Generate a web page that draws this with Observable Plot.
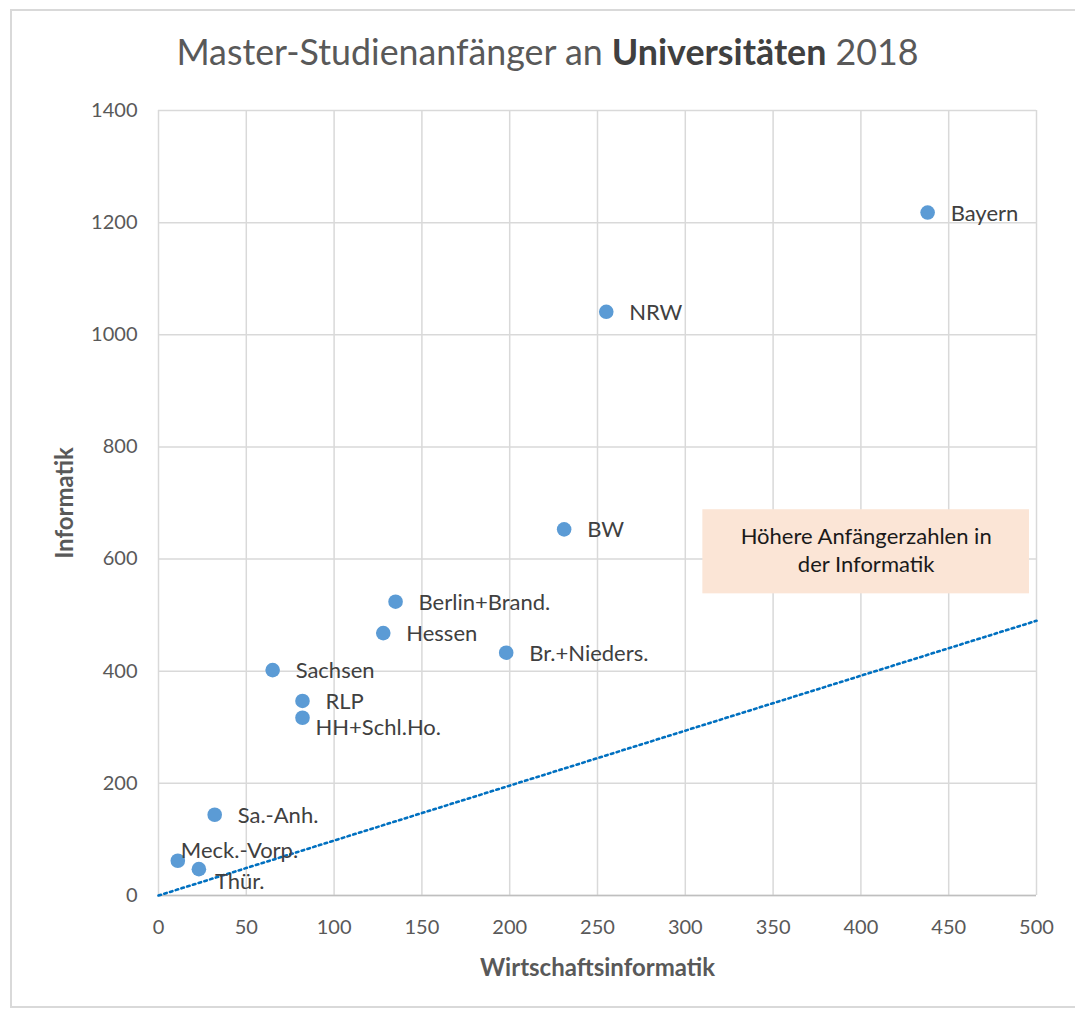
<!DOCTYPE html>
<html>
<head>
<meta charset="utf-8">
<script src="https://cdn.jsdelivr.net/npm/d3@7"></script>
<script src="https://cdn.jsdelivr.net/npm/@observablehq/plot@0.6"></script>
<style>
  html, body { margin: 0; padding: 0; background: #fff; }
  #wrap { position: relative; width: 1075px; height: 1012px; overflow: hidden; font-family: Lato, "Open Sans", sans-serif; }
  #frame { position: absolute; left: 10px; top: 9px; width: 1080px; height: 999px; border: 2px solid #d9d9d9; box-sizing: border-box; }
  #title { position: absolute; left: 20px; width: 1055px; top: 30px; text-align: center; font-size: 35.8px; color: #595959; line-height: 44px; }
  #title b { color: #404040; }
  #chart { position: absolute; left: 0; top: 90px; }
</style>
</head>
<body>
<div id="wrap">
  <div id="frame"></div>
  <div id="title">Master-Studienanfänger an <b>Universitäten</b> 2018</div>
  <div id="chart"></div>
</div>
<script>
const states = ["Bayern", "NRW", "BW", "Berlin+Brand.", "Hessen", "Br.+Nieders.", "Sachsen", "RLP", "HH+Schl.Ho.", "Sa.-Anh.", "Meck.-Vorp.", "Thür."];
const wirtschaftsinformatik = [438, 255, 231, 135, 128, 198, 65, 82, 82, 32, 11, 23];
const informatik = [1218, 1041, 653, 524, 468, 433, 402, 347, 317, 144, 62, 47];
const xTicks = [0, 50, 100, 150, 200, 250, 300, 350, 400, 450, 500];
const yTicks = [0, 200, 400, 600, 800, 1000, 1200, 1400];
const refLineX = [0, 500];
const refLineY = [0, 490];
const noteText = "Höhere Anfängerzahlen in\nder Informatik";
const noteBox = {x1: 310, x2: 496, y1: 538, y2: 688};

const data = states.map((s, i) => ({state: s, x: wirtschaftsinformatik[i], y: informatik[i]}));
const refLine = refLineX.map((x, i) => ({x, y: refLineY[i]}));

// label placement (style, not data)
const below = new Set(["Thür."]);
const belowRight = new Set(["HH+Schl.Ho."]);
const above = new Set(["Meck.-Vorp."]);
const right = data.filter(d => !below.has(d.state) && !belowRight.has(d.state) && !above.has(d.state));

const font = "Lato, 'Open Sans', sans-serif";
const labelFill = "#404040";
const labelSize = 22;

const plot = Plot.plot({
  width: 1075,
  height: 922,
  marginLeft: 158,
  marginRight: 39,
  marginTop: 20,
  marginBottom: 117,
  style: {fontFamily: font, background: "transparent"},
  x: {domain: [0, 500], ticks: xTicks},
  y: {domain: [0, 1400], ticks: yTicks},
  marks: [
    Plot.gridX(xTicks, {stroke: "#d9d9d9", strokeOpacity: 1, strokeWidth: 1.5}),
    Plot.gridY(yTicks, {stroke: "#d9d9d9", strokeOpacity: 1, strokeWidth: 1.5}),
    Plot.ruleY([0], {stroke: "#bfbfbf", strokeWidth: 1.5}),
    Plot.axisX(xTicks, {tickSize: 0, tickPadding: 24, fontSize: 20, fill: "#595959", tickFormat: d => String(d),
      label: "Wirtschaftsinformatik", labelAnchor: "center", labelArrow: "none", labelOffset: 80}),
    Plot.axisY(yTicks, {tickSize: 0, tickPadding: 21, fontSize: 20, fill: "#595959", tickFormat: d => String(d),
      label: "Informatik", labelAnchor: "center", labelArrow: "none", labelOffset: 103}),
    Plot.rect([noteBox], {x1: "x1", x2: "x2", y1: "y1", y2: "y2", fill: "#fbe5d6"}),
    Plot.text([noteText], {x: (noteBox.x1 + noteBox.x2) / 2, y: (noteBox.y1 + noteBox.y2) / 2, text: d => d,
      fontSize: 22, fill: "#1a1a1a", lineHeight: 1.3, dy: -3}),
    Plot.line(refLine, {x: "x", y: "y", stroke: "#0070c0", strokeWidth: 2.6, strokeDasharray: "2.6,3.4"}),
    Plot.dot(data, {x: "x", y: "y", r: 7.3, fill: "#5b9bd5"}),
    Plot.text(right, {x: "x", y: "y", text: "state", textAnchor: "start", dx: 23, dy: 1, fontSize: labelSize, fill: labelFill}),
    Plot.text(data.filter(d => above.has(d.state)), {x: "x", y: "y", text: "state", textAnchor: "start", dx: 3, dy: -10, fontSize: labelSize, fill: labelFill}),
    Plot.text(data.filter(d => below.has(d.state)), {x: "x", y: "y", text: "state", textAnchor: "start", dx: 16, dy: 13, fontSize: labelSize, fill: labelFill}),
    Plot.text(data.filter(d => belowRight.has(d.state)), {x: "x", y: "y", text: "state", textAnchor: "start", dx: 13, dy: 10, fontSize: labelSize, fill: labelFill})
  ]
});
plot.querySelectorAll('[aria-label="x-axis label"] text, [aria-label="y-axis label"] text').forEach(t => {
  t.setAttribute("font-weight", "bold");
  t.setAttribute("font-size", "24");
  t.setAttribute("fill", "#595959");
});
document.getElementById("chart").appendChild(plot);
</script>
</body>
</html>
